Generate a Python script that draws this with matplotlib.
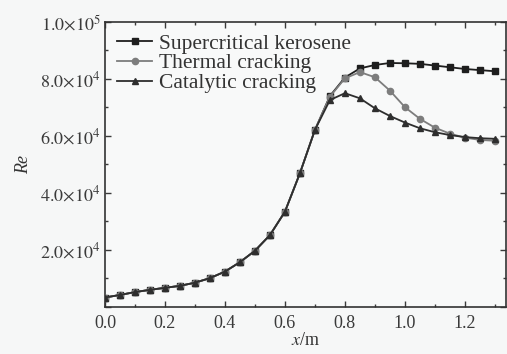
import matplotlib
matplotlib.use("Agg")
import matplotlib.pyplot as plt
from matplotlib.ticker import FuncFormatter, MultipleLocator

plt.rcParams["font.family"] = ["Liberation Serif", "DejaVu Serif"]
plt.rcParams["mathtext.fontset"] = "stix"

# x positions (m)
x_common = [0.00, 0.05, 0.10, 0.15, 0.20, 0.25, 0.30, 0.35, 0.40, 0.45,
            0.50, 0.55, 0.60, 0.65, 0.70]
x_tail = [0.75, 0.80, 0.85, 0.90, 0.95, 1.00, 1.05, 1.10, 1.15, 1.20,
          1.25, 1.30]
x_vals = x_common + x_tail

re_common = [3300, 4200, 5200, 6000, 6700, 7400, 8500, 10100, 12400, 15700,
             19700, 25200, 33400, 46900, 62100]

re_kerosene = re_common + [74000, 80500, 83700, 84900, 85600, 85500, 85300,
                           84700, 84100, 83500, 83100, 82700]
re_thermal = re_common + [73800, 80200, 82400, 80600, 75900, 70100, 66000,
                          62900, 60800, 59400, 58600, 58300]
re_catalytic = re_common + [72600, 75000, 73200, 69700, 67000, 64700, 62700,
                            61300, 60300, 59600, 59200, 59000]

labels = ["Supercritical kerosene", "Thermal cracking", "Catalytic cracking"]

fig = plt.figure(figsize=(5.07, 3.54), dpi=100, facecolor="#f6f7f7")
ax = fig.add_axes([0.207, 0.133, 0.791, 0.805])
ax.set_facecolor("#f8f9f9")

ax.plot(x_vals, re_kerosene, color="#1e1e1e", lw=1.3, marker="s", ms=4.5,
        label=labels[0], zorder=3)
ax.plot(x_vals, re_thermal, color="#7d7d7d", lw=1.3, marker="o", ms=4.5,
        label=labels[1], zorder=4)
ax.plot(x_vals, re_catalytic, color="#2e2e2e", lw=1.3, marker="^", ms=4.8,
        label=labels[2], zorder=5)

ax.set_xlim(0, 1.337)
ax.set_ylim(0, 100000)
ax.xaxis.set_major_locator(MultipleLocator(0.2))
ax.xaxis.set_minor_locator(MultipleLocator(0.1))
ax.yaxis.set_major_locator(MultipleLocator(20000))
ax.yaxis.set_minor_locator(MultipleLocator(10000))


def fmt_y(v, _pos):
    if v <= 0:
        return ""
    exp = 5 if v >= 100000 else 4
    return r"$%.1f{\times}10^{%d}$" % (v / 10 ** exp, exp)


ax.yaxis.set_major_formatter(FuncFormatter(fmt_y))
ax.xaxis.set_major_formatter(FuncFormatter(lambda v, p: "%.1f" % v))

ax.tick_params(which="both", direction="in", top=True, right=True,
               labelsize=13, colors="#3a3a3a", width=1.0)
ax.tick_params(which="major", length=4)
ax.tick_params(which="minor", length=2.5)
ax.tick_params(axis="x", pad=6)
ax.tick_params(axis="y", pad=3)
for s in ax.spines.values():
    s.set_linewidth(1.2)
    s.set_color("#333333")

ax.set_xlabel(r"$\it{x}$/m", fontsize=13, color="#333333", labelpad=0)
ax.set_ylabel("Re", fontsize=13, style="italic", color="#333333", labelpad=6)

leg = ax.legend(loc="upper left", frameon=False, fontsize=15.5,
                handlelength=1.65, handletextpad=0.33, labelspacing=-0.02,
                borderaxespad=0.15, bbox_to_anchor=(0.0, 1.0))
for t in leg.get_texts():
    t.set_color("#333333")

fig.savefig("out.png", dpi=100, facecolor=fig.get_facecolor())
